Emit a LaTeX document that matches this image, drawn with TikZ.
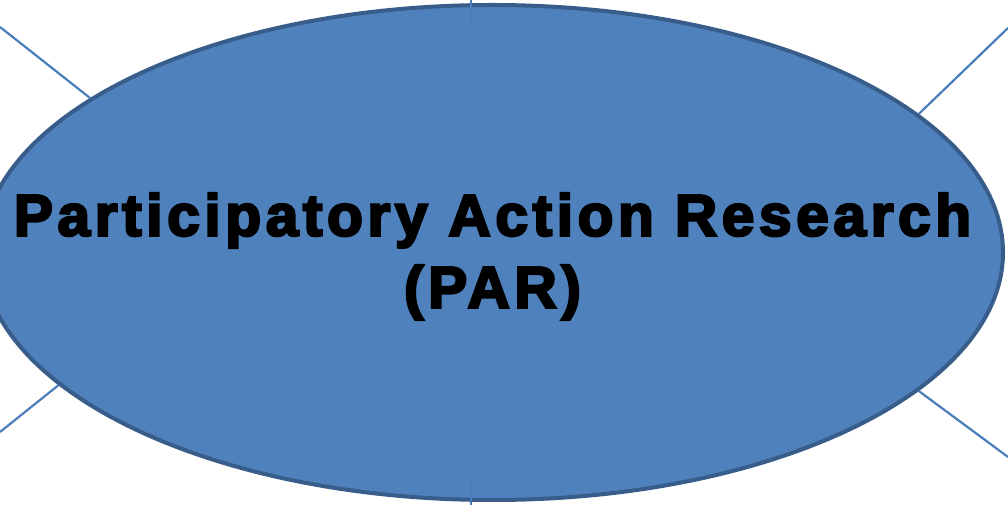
\documentclass[tikz,border=0pt]{standalone}
\usepackage{fontspec}
\usetikzlibrary{shapes.geometric}
\newfontfamily\parfont[FakeBold=4,LetterSpace=7.8]{Liberation Sans Bold}
\definecolor{bubblefill}{HTML}{4F81BD}
\definecolor{bubbleedge}{HTML}{385D8A}
\definecolor{spoke}{HTML}{4A7EBB}
\tikzset{
  bubble/.style={ellipse, draw=bubbleedge, fill=bubblefill, line width=4pt,
    inner sep=0pt, minimum width=1021pt, minimum height=495pt},
  title/.style={align=center, text=black, inner sep=0pt,
    font=\parfont\fontsize{58.7}{72}\selectfont},
  spokeline/.style={draw=spoke, line width=2.2pt}
}
\begin{document}
\begin{tikzpicture}[x=1pt,y=1pt]
  \useasboundingbox (0,0) rectangle (1008,505);
  % central ellipse
  \node[bubble] (par) at (492.5,252.5) {};
  \node[title] (name) at ([yshift=-4pt]par.center)
    {Participatory Action Research\\(PAR)};
  % free ends of the spokes
  \coordinate (tl) at (0,478);
  \coordinate (tr) at (1008,477);
  \coordinate (bl) at (0,73);
  \coordinate (br) at (1008,48);
  \coordinate (vtop) at (471,505);
  \coordinate (vtopin) at (471,480);
  \coordinate (vbot) at (471,0);
  \coordinate (vbotin) at (471,27);
  % spokes
  \draw[spokeline] (tl) -- (par.159.5);
  \draw[spokeline] (tr) -- (par.18.3);
  \draw[spokeline] (bl) -- (par.197.9);
  \draw[spokeline] (br) -- (par.342.1);
  \draw[spokeline] (vtop) -- (vtopin);
  \draw[spokeline] (vbot) -- (vbotin);
\end{tikzpicture}
\end{document}
